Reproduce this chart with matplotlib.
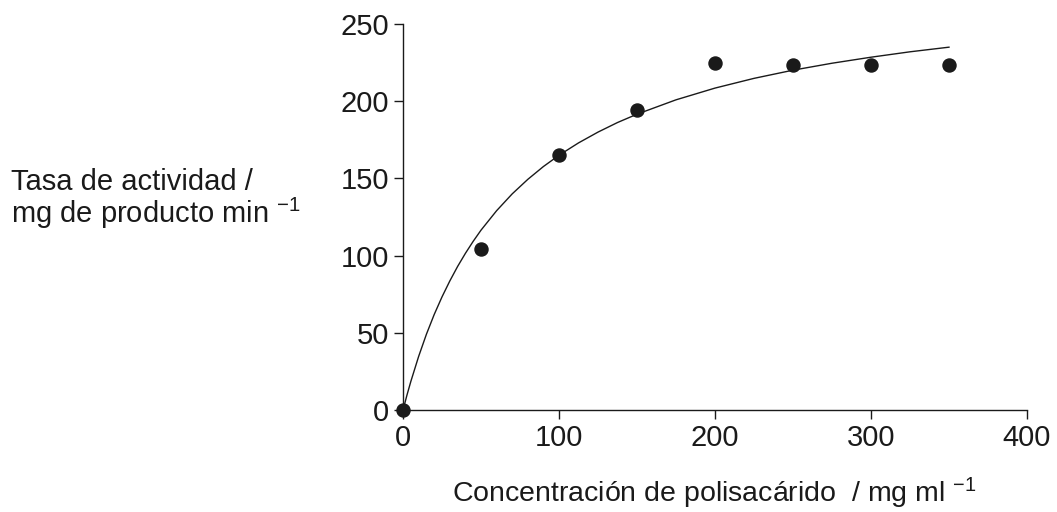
import matplotlib
matplotlib.use("Agg")
import matplotlib.pyplot as plt

# measured points (concentration, rate)
conc = [0, 50, 100, 150, 200, 250, 300, 350]
rate = [0, 104, 165, 194, 224.5, 223.5, 223.5, 223.5]

# fitted curve
curve_x = [0, 2.5, 5, 10, 15, 20, 25, 30, 35, 40, 45, 50, 60, 70, 80, 90,
           100, 112.5, 125, 137.5, 150, 175, 200, 225, 250, 275, 300, 325, 350]
curve_y = [0, 9.6, 18.5, 34.7, 49.1, 61.9, 73.3, 83.6, 93.0, 101.5, 109.3,
           116.5, 129.1, 140.0, 149.4, 157.7, 165, 173.0, 180.0, 186.2, 191.6,
           200.9, 208.5, 214.8, 220.1, 224.6, 228.5, 232.0, 235]

x_ticks = [0, 100, 200, 300, 400]
y_ticks = [0, 50, 100, 150, 200, 250]

plt.rcParams['font.family'] = ['Liberation Sans', 'DejaVu Sans']
plt.rcParams['mathtext.fontset'] = 'custom'
plt.rcParams['mathtext.rm'] = 'Liberation Sans'
plt.rcParams['mathtext.default'] = 'regular'

fig = plt.figure(figsize=(10.57, 5.12), dpi=100)
ax = fig.add_axes([0.3813, 0.1992, 0.5903, 0.7539])

ax.plot(curve_x, curve_y, color='#1a1a1a', lw=1.0, clip_on=False, zorder=2,
        solid_joinstyle='round')
ax.plot(conc, rate, 'o', color='#1a1a1a', ms=9.4, clip_on=False, zorder=3)

ax.set_xlim(0, 400)
ax.set_ylim(0, 250)
ax.set_xticks(x_ticks)
ax.set_yticks(y_ticks)
ax.spines['top'].set_visible(False)
ax.spines['right'].set_visible(False)
for s in ['left', 'bottom']:
    ax.spines[s].set_linewidth(1.0)
    ax.spines[s].set_color('#1a1a1a')
ax.tick_params(direction='out', length=6.5, width=1.0, colors='#1a1a1a',
               labelsize=21, pad=3.5)

fig.text(0.6757, 0.0195, 'Concentración de polisacárido  / mg ml $^{-1}$',
         ha='center', va='baseline', fontsize=20.5, color='#1a1a1a')
fig.text(0.010, 0.6289, 'Tasa de actividad /', ha='left', va='baseline',
         fontsize=21, color='#1a1a1a')
fig.text(0.010, 0.5645, 'mg de producto min $^{-1}$', ha='left', va='baseline',
         fontsize=21, color='#1a1a1a')

fig.savefig('out.png', dpi=100)
